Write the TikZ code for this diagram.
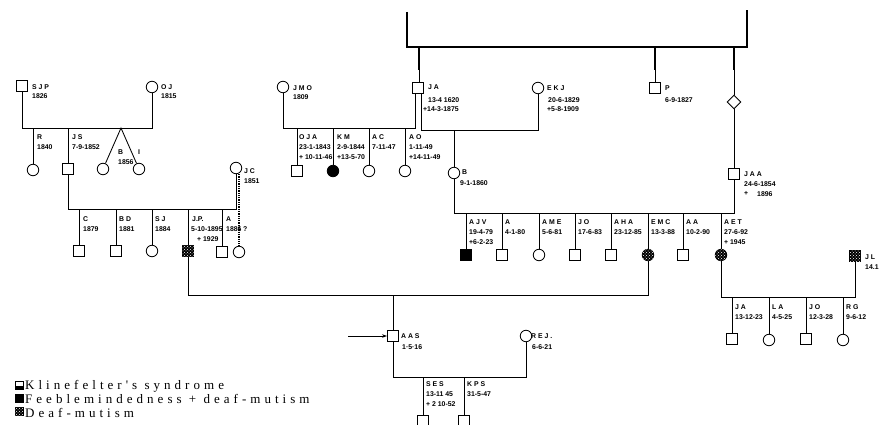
\documentclass[tikz,border=0pt]{standalone}
\usepackage{fontspec}
\setsansfont{Liberation Sans}
\newfontfamily\legfont[LetterSpace=31]{Liberation Serif}
\usetikzlibrary{shapes.geometric,patterns,arrows.meta}
\begin{document}
\begin{tikzpicture}[x=1pt,y=-1pt,
 ln/.style={line width=0.85pt},
 thk/.style={line width=1.6pt},
 sq/.style={draw, line width=0.85pt, minimum size=11pt, inner sep=0pt, fill=white},
 ci/.style={draw, circle, line width=0.85pt, minimum size=11.5pt, inner sep=0pt, fill=white},
 dm/.style={fill=black, postaction={pattern=crosshatch dots, pattern color=white}},
 fm/.style={fill=black},
 kl/.style={path picture={\fill (path picture bounding box.south west) rectangle ([yshift=3.5pt]path picture bounding box.south east);}},
 lab/.style={font=\fontsize{6.9}{9.8}\selectfont\sffamily\bfseries, inner sep=0pt, anchor=north west, align=left},
 leg/.style={font=\legfont\fontsize{13}{13}\selectfont, inner sep=0pt, anchor=base west},
 dotline/.style={line width=1.3pt, densely dotted}
 ]
\clip (0,0) rectangle (880,425);
\fill[white] (0,0) rectangle (880,425);
% top bracket
\draw[thk] (407,12) -- (407,47) -- (747,47) -- (747,10);
\coordinate (bJA) at (419,47); \coordinate (kJA) at (419,70);
\coordinate (bP) at (655,47); \coordinate (kP) at (655,70);
\coordinate (bD) at (734,47); \coordinate (kD) at (734,70);
\node[sq] (JA) at (418,88) {};
\node[sq] (P) at (655,88) {};
\node[diamond, draw, line width=0.85pt, minimum size=14pt, inner sep=0pt, fill=white] (D) at (734,102) {};
\draw[thk] (bJA) -- (kJA); \draw[ln] (kJA) -- (JA.north -| kJA);
\draw[thk] (bP) -- (kP); \draw[ln] (kP) -- (P.north);
\draw[thk] (bD) -- (kD); \draw[ln] (kD) -- (D.north);
\node[ci] (EKJ) at (538,88) {};
\node[ci] (JMO) at (283,87) {};
% JA marriages
\coordinate (mL) at (415,128);
\coordinate (mR) at (421,130);
\draw[ln] (JMO.south) |- (mL) -- (mL |- JA.south);
\draw[ln] (mR |- JA.south) -- (mR) -| (EKJ.south);
% children JA + JMO
\node[sq] (OJA) at (297,171) {};
\node[ci,fm] (KM) at (333,171) {};
\node[ci] (AC) at (369,171) {};
\node[ci] (AO) at (405,171) {};
\foreach \n in {OJA,KM,AC,AO} \draw[ln] (\n.north) -- (\n |- mL);
% child JA + EKJ
\node[ci] (B) at (454,173) {};
\draw[ln] (B.north) -- (B |- mR);
% B + JAA
\node[sq] (JAA) at (734,174) {};
\draw[ln] (D.south) -- (JAA.north);
\coordinate (mB) at (454,213);
\draw[ln] (B.south) |- (JAA.south |- mB) -- (JAA.south);
\node[sq,fm] (AJV) at (466,255) {};
\node[sq] (A1) at (502,255) {};
\node[ci] (AME) at (539,255) {};
\node[sq] (JO) at (575,255) {};
\node[sq] (AHA) at (611,255) {};
\node[ci,dm] (EMC) at (648,255) {};
\node[sq] (AA) at (683,255) {};
\node[ci,dm] (AET) at (721,255) {};
\foreach \n in {AJV,A1,AME,JO,AHA,EMC,AA,AET} \draw[ln] (\n.north) -- (\n |- mB);
% left family
\node[sq] (SJP) at (22,86) {};
\node[ci] (OJ) at (152,87) {};
\coordinate (mS) at (22,128);
\draw[ln] (SJP.south) |- (OJ.south |- mS) -- (OJ.south);
\node[ci] (R) at (33,170) {};
\node[sq] (JS) at (68,169) {};
\node[ci] (T1) at (103,169) {};
\node[ci] (T2) at (139,169) {};
\coordinate (tw) at (121,128);
\draw[ln] (R.north) -- (R |- mS);
\draw[ln] (JS.north) -- (JS |- mS);
\draw[ln] (T1) -- (tw) -- (T2);
\node[ci] (JC) at (236,168) {};
\coordinate (mC) at (236,209);
\draw[ln] (JS.south) |- (mC) -- (JC.south);
\node[sq] (C) at (79,251) {};
\node[sq] (BD) at (116,251) {};
\node[ci] (SJ) at (152,251) {};
\node[sq,dm] (JP) at (188,251) {};
\node[sq] (A2) at (222,252) {};
\node[ci] (Q) at (239,252) {};
\foreach \n in {C,BD,SJ,JP,A2} \draw[ln] (\n.north) -- (\n |- mC);
\draw[dotline] (JC.south -| Q) -- (Q.north);
% JP + EMC
\coordinate (mJ) at (393,295);
\draw[ln] (JP.south) |- (EMC.south |- mJ) -- (EMC.south);
\node[sq,kl] (AAS) at (393,336) {};
\draw[ln] (mJ) -- (AAS.north);
\coordinate (arr) at (348,336);
\draw[ln,-{Stealth[length=5pt,width=3.5pt]}] (arr) -- (AAS.west);
\node[ci] (REJ) at (526,336) {};
\coordinate (mA) at (393,377);
\draw[ln] (AAS.south) |- (REJ.south |- mA) -- (REJ.south);
\node[sq] (SES) at (423,421) {};
\node[sq] (KPS) at (464,421) {};
\foreach \n in {SES,KPS} \draw[ln] (\n.north) -- (\n |- mA);
% AET + JL
\node[sq,dm] (JL) at (855,256) {};
\coordinate (mE) at (721,297);
\draw[ln] (AET.south) |- (JL.south |- mE) -- (JL.south);
\node[sq] (JA2) at (732,339) {};
\node[ci] (LA) at (769,340) {};
\node[sq] (JO2) at (806,339) {};
\node[ci] (RG) at (843,340) {};
\foreach \n in {JA2,LA,JO2,RG} \draw[ln] (\n.north) -- (\n |- mE);
% labels
\node[lab] (lSJP) at (32,84) {S J P\\1826};
\node[lab] (lOJ) at (161,84) {O J\\1815};
\node[lab] (lR) at (37,134.5) {R\\1840};
\node[lab] (lJS) at (72,134.5) {J S\\7-9-1852};
\node[lab] (lB0) at (118,149.5) {B\\1856};
\node[lab] (lI) at (138,149.5) {I};
\node[lab] (lJC) at (244,168.5) {J C\\1851};
\node[lab] (lJMO) at (293,85) {J M O\\1809};
\node[lab] (lJA) at (428,85) {J A};
\node[lab] (lJAb) at (428,97.5) {13-4 1620};
\node[lab] (lJAc) at (423,106.5) {+14-3-1875};
\node[lab] (lEKJ) at (547,85.5) {E K J};
\node[lab] (lEKJb) at (548,97.5) {20-6-1829};
\node[lab] (lEKJc) at (547,106.5) {+5-8-1909};
\node[lab] (lP) at (665,86) {P};
\node[lab] (lPb) at (665,97.5) {6-9-1827};
\node[lab] (lOJA) at (299,134.5) {O J A\\23-1-1843\\+ 10-11-46};
\node[lab] (lKM) at (337,134.5) {K M\\2-9-1844\\+13-5-70};
\node[lab] (lAC) at (372,134.5) {A C\\7-11-47};
\node[lab] (lAO) at (409,134.5) {A O\\1-11-49\\+14-11-49};
\node[lab] (lB) at (462,169.5) {B};
\node[lab] (lBb) at (460,180.5) {9-1-1860};
\node[lab] (lJAA) at (744,171.5) {J A A\\24-6-1854};
\node[lab] (lJAAc) at (744,191.5) {+};
\node[lab] (lJAAd) at (757,191.5) {1896};
\node[lab] (lAJV) at (469,219.5) {A J V\\19-4-79\\+6-2-23};
\node[lab] (lA1) at (505,219.5) {A\\4-1-80};
\node[lab] (lAME) at (542,219.5) {A M E\\5-6-81};
\node[lab] (lJO) at (578,219.5) {J O\\17-6-83};
\node[lab] (lAHA) at (614,219.5) {A H A\\23-12-85};
\node[lab] (lEMC) at (651,219.5) {E M C\\13-3-88};
\node[lab] (lAA) at (686,219.5) {A A\\10-2-90};
\node[lab] (lAET) at (724,219.5) {A E T\\27-6-92\\+ 1945};
\node[lab] (lC) at (83,216.5) {C\\1879};
\node[lab] (lBD) at (119,216.5) {B D\\1881};
\node[lab] (lSJ) at (155,216.5) {S J\\1884};
\node[lab] (lJP) at (192,216.5) {J.P.};
\node[lab] (lJPb) at (191,226.5) {5-10-1895};
\node[lab] (lJPc) at (197,236.5) {+ 1929};
\node[lab] (lA2) at (226,216.5) {A\\1886};
\node[lab] (lQ) at (243,226.5) {?};
\node[lab] (lAAS) at (401,333.5) {A A S};
\node[lab] (lAASb) at (402,344.5) {1·5·16};
\node[lab] (lREJ) at (531,333.5) {R E J .};
\node[lab] (lREJb) at (532,344.5) {6-6-21};
\node[lab] (lSES) at (426,381.5) {S E S\\13-11 45\\+ 2 10-52};
\node[lab] (lKPS) at (467,381.5) {K P S\\31-5-47};
\node[lab] (lJL) at (865,254.5) {J L\\14.1};
\node[lab] (lJA2) at (735,304.5) {J A\\13-12-23};
\node[lab] (lLA) at (772,304.5) {L A\\4-5-25};
\node[lab] (lJO2) at (809,304.5) {J O\\12-3-28};
\node[lab] (lRG) at (846,304.5) {R G\\9-6-12};
% legend
\node[draw, line width=0.85pt, minimum size=8pt, inner sep=0pt, kl] (k1) at (19,385) {};
\node[draw, line width=0.85pt, minimum size=8pt, inner sep=0pt, fill=black] (k2) at (19,398) {};
\node[draw, line width=0.85pt, minimum size=8pt, inner sep=0pt, dm] (k3) at (19,411) {};
\node[leg] (t1) at (25,389) {Klinefelter's syndrome};
\node[leg] (t2) at (25,403) {Feeblemindedness + deaf-mutism};
\node[leg] (t3) at (25,417) {Deaf-mutism};
\end{tikzpicture}
\end{document}
